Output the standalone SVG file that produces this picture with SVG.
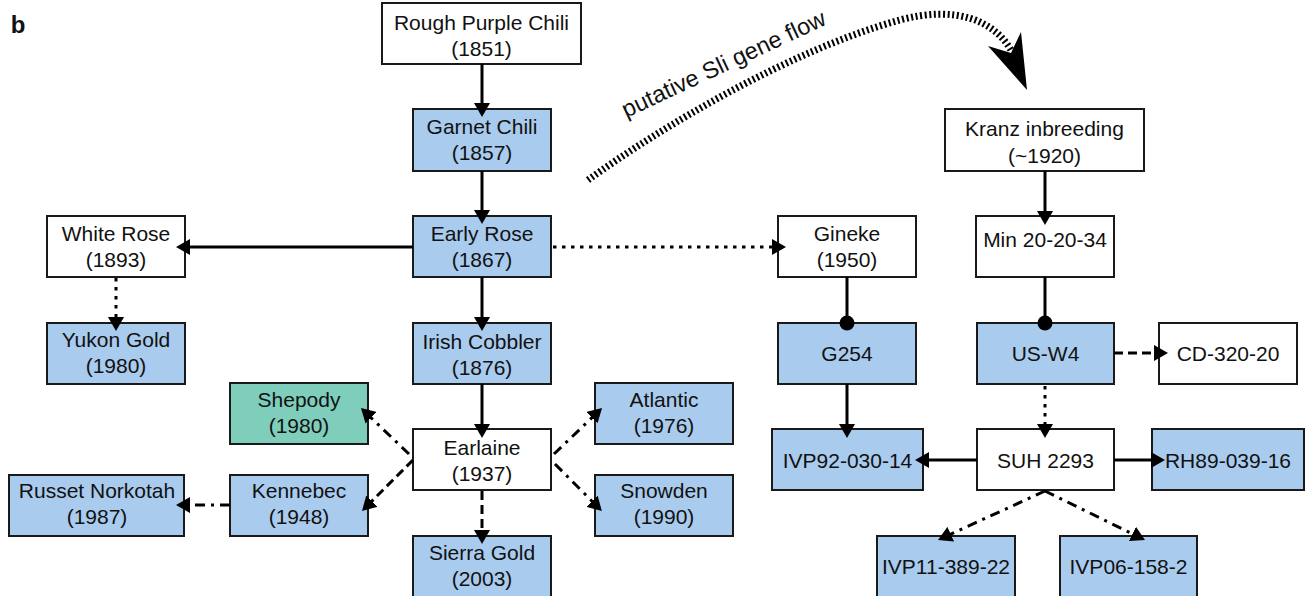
<svg xmlns="http://www.w3.org/2000/svg" width="1311" height="596" viewBox="0 0 1311 596">
<style>
.box{stroke:#1a1a1a;stroke-width:2}
.w{fill:#ffffff}
.b{fill:#a9cbee}
.g{fill:#7fcdbb}
text{font-family:"Liberation Sans",Arial,sans-serif;font-size:21px;fill:#111;text-anchor:middle}
.ln{stroke:#000;stroke-width:3;fill:none}
.dot{stroke-dasharray:3.5 5.5}
.dash{stroke-dasharray:9 5}
.dd{stroke-dasharray:10 6 3 6}
</style>
<defs>
<marker id="arr" viewBox="0 0 14 16" refX="3" refY="8" markerWidth="14" markerHeight="16" markerUnits="userSpaceOnUse" orient="auto">
<path d="M0,0 L14,8 L0,16 z" fill="#000"/>
</marker>
<marker id="dotEnd" viewBox="0 0 16 16" refX="8" refY="8" markerWidth="16" markerHeight="16" markerUnits="userSpaceOnUse" orient="auto">
<circle cx="8" cy="8" r="7.5" fill="#000"/>
</marker>
</defs>
<rect width="1311" height="596" fill="#fff"/>
<text x="18" y="33" style="font-weight:bold;font-size:24px">b</text>

<g id="nodes">
<g id="n-rpc"><rect class="box w" x="382" y="3" width="199" height="61"/><text x="481.5" y="29.5">Rough Purple Chili</text><text x="481.5" y="56">(1851)</text></g>
<g id="n-garnet"><rect class="box b" x="413" y="109" width="138" height="62"/><text x="482" y="134">Garnet Chili</text><text x="482" y="159.5">(1857)</text></g>
<g id="n-earlyrose"><rect class="box b" x="413" y="216" width="138" height="61"/><text x="482" y="241">Early Rose</text><text x="482" y="267">(1867)</text></g>
<g id="n-whiterose"><rect class="box w" x="47" y="216" width="138" height="61"/><text x="116" y="241">White Rose</text><text x="116" y="267">(1893)</text></g>
<g id="n-yukon"><rect class="box b" x="47" y="323" width="138" height="61"/><text x="116" y="347">Yukon Gold</text><text x="116" y="373">(1980)</text></g>
<g id="n-irish"><rect class="box b" x="413" y="323" width="138" height="61"/><text x="482" y="349">Irish Cobbler</text><text x="482" y="375">(1876)</text></g>
<g id="n-shepody"><rect class="box g" x="230" y="383" width="138" height="61"/><text x="299" y="407">Shepody</text><text x="299" y="433">(1980)</text></g>
<g id="n-earlaine"><rect class="box w" x="413" y="429" width="138" height="61"/><text x="482" y="455">Earlaine</text><text x="482" y="481">(1937)</text></g>
<g id="n-atlantic"><rect class="box b" x="595" y="383" width="138" height="61"/><text x="664" y="407">Atlantic</text><text x="664" y="433">(1976)</text></g>
<g id="n-kennebec"><rect class="box b" x="230" y="475" width="138" height="61"/><text x="299" y="498">Kennebec</text><text x="299" y="524">(1948)</text></g>
<g id="n-russet"><rect class="box b" x="9" y="475" width="175" height="61"/><text x="97" y="498">Russet Norkotah</text><text x="97" y="524">(1987)</text></g>
<g id="n-snowden"><rect class="box b" x="595" y="475" width="138" height="61"/><text x="664" y="498">Snowden</text><text x="664" y="524">(1990)</text></g>
<g id="n-sierra"><rect class="box b" x="413" y="536" width="138" height="62"/><text x="482" y="560">Sierra Gold</text><text x="482" y="586">(2003)</text></g>
<g id="n-gineke"><rect class="box w" x="778" y="216" width="138" height="61"/><text x="847" y="241">Gineke</text><text x="847" y="267">(1950)</text></g>
<g id="n-g254"><rect class="box b" x="778" y="323" width="138" height="61"/><text x="847" y="361">G254</text></g>
<g id="n-ivp92"><rect class="box b" x="772" y="429" width="151" height="61"/><text x="847.5" y="467.5">IVP92-030-14</text></g>
<g id="n-kranz"><rect class="box w" x="945" y="109" width="199" height="62"/><text x="1044.5" y="136">Kranz inbreeding</text><text x="1044.5" y="163">(~1920)</text></g>
<g id="n-min"><rect class="box w" x="976" y="216" width="138" height="61"/><text x="1045" y="247">Min 20-20-34</text></g>
<g id="n-usw4"><rect class="box b" x="977" y="323" width="137" height="61"/><text x="1045.5" y="361">US-W4</text></g>
<g id="n-cd"><rect class="box w" x="1159" y="323" width="138" height="61"/><text x="1228" y="361">CD-320-20</text></g>
<g id="n-suh"><rect class="box w" x="977" y="429" width="137" height="61"/><text x="1045.5" y="467.5">SUH 2293</text></g>
<g id="n-rh89"><rect class="box b" x="1152" y="429" width="152" height="61"/><text x="1228" y="467.5">RH89-039-16</text></g>
<g id="n-ivp11"><rect class="box b" x="877" y="536" width="138" height="62"/><text x="946" y="574">IVP11-389-22</text></g>
<g id="n-ivp06"><rect class="box b" x="1060" y="536" width="137" height="62"/><text x="1128.5" y="574">IVP06-158-2</text></g>
</g>

<g id="connectors">
<line class="ln" x1="482" y1="64" x2="482" y2="106" marker-end="url(#arr)"/>
<line class="ln" x1="482" y1="171" x2="482" y2="213" marker-end="url(#arr)"/>
<line class="ln" x1="413" y1="247" x2="187" y2="247" marker-end="url(#arr)"/>
<line class="ln" x1="482" y1="277" x2="482" y2="320" marker-end="url(#arr)"/>
<line class="ln dot" x1="553" y1="247" x2="775" y2="247" marker-end="url(#arr)"/>
<line class="ln dot" x1="116" y1="278" x2="116" y2="320" marker-end="url(#arr)"/>
<line class="ln" x1="482" y1="384" x2="482" y2="427" marker-end="url(#arr)"/>
<line class="ln dd" x1="409" y1="454" x2="368.9" y2="415.7" marker-end="url(#arr)"/>
<line class="ln dash" x1="413" y1="460" x2="369.8" y2="503.2" marker-end="url(#arr)"/>
<line class="ln dd" x1="554" y1="454" x2="594.1" y2="415.6" marker-end="url(#arr)"/>
<line class="ln dd" x1="555" y1="464" x2="594.1" y2="503.3" marker-end="url(#arr)"/>
<line class="ln dash" x1="482" y1="491" x2="482" y2="533" marker-end="url(#arr)"/>
<line class="ln dd" x1="230" y1="505" x2="187" y2="505" marker-end="url(#arr)"/>
<line class="ln" x1="847" y1="277" x2="847" y2="323" marker-end="url(#dotEnd)"/>
<line class="ln" x1="847" y1="384" x2="847" y2="427" marker-end="url(#arr)"/>
<line class="ln" x1="1045" y1="171" x2="1045" y2="214" marker-end="url(#arr)"/>
<line class="ln" x1="1045" y1="277" x2="1045" y2="323" marker-end="url(#dotEnd)"/>
<line class="ln dash" x1="1114" y1="353" x2="1157" y2="353" marker-end="url(#arr)"/>
<line class="ln dot" x1="1045" y1="386" x2="1045" y2="427" marker-end="url(#arr)"/>
<line class="ln" x1="977" y1="460" x2="926" y2="460" marker-end="url(#arr)"/>
<line class="ln" x1="1114" y1="460" x2="1154" y2="460" marker-end="url(#arr)"/>
<line class="ln dd" x1="1045" y1="491" x2="948" y2="535.4" marker-end="url(#arr)"/>
<line class="ln dd" x1="1045" y1="491" x2="1135.1" y2="535.2" marker-end="url(#arr)"/>
<path d="M588,180 C660,128 790,50 900,20 C955,5 995,20 1012,52" fill="none" stroke="#000" stroke-width="7" stroke-dasharray="2 2.6"/>
<polygon points="1027,90 988,46 1011,53 1021,32" fill="#000"/>
<text x="727" y="71" transform="rotate(-25 727 71)" style="font-size:23.5px">putative Sli gene flow</text>
</g>
</svg>
